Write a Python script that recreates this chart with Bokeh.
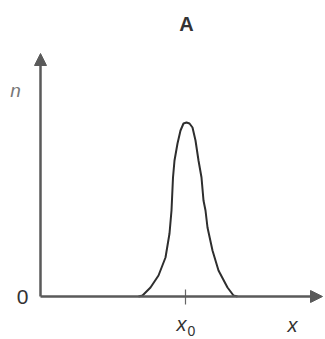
from bokeh.plotting import figure
from bokeh.models import Range1d, Arrow, NormalHead
from bokeh.core.properties import value
from bokeh.embed import file_html
from bokeh.resources import INLINE

# curve (x position, n value) in arbitrary units
curve_x = [98, 102, 110, 118, 125, 129, 131, 132.5, 134, 137, 140, 143, 146,
           149, 152, 155, 158, 161, 163, 165, 167, 172, 178, 187, 193, 197]
curve_n = [0, 1, 9, 21, 39, 63, 86, 119, 136, 153, 166, 173, 174,
           173, 169, 156, 136, 119, 96, 86, 69, 46, 26, 9, 1, 0]
x0_pos = 145
x_axis_end = 282
y_axis_end = 243

FONT = "Liberation Sans"

p = figure(width=325, height=339, output_backend="svg", toolbar_location=None,
           x_range=Range1d(-40, 285), y_range=Range1d(-43, 296),
           min_border=0, outline_line_color=None)
p.axis.visible = False
p.grid.visible = False
p.background_fill_color = "white"

axis_col = "#5a5a5a"
p.add_layout(Arrow(end=NormalHead(size=12, fill_color=axis_col, line_color=axis_col, line_width=1),
                   x_start=0, y_start=0, x_end=x_axis_end, y_end=0,
                   line_color=axis_col, line_width=2.5))
p.add_layout(Arrow(end=NormalHead(size=12, fill_color=axis_col, line_color=axis_col, line_width=1),
                   x_start=0, y_start=0, x_end=0, y_end=y_axis_end,
                   line_color=axis_col, line_width=2.5))

p.segment(x0=[x0_pos], y0=[7], x1=[x0_pos], y1=[-8], line_color="#666666", line_width=1.2)

p.line(curve_x, curve_n, line_color="#2e2e2e", line_width=2, line_join="round")

p.text(x=[146], y=[273], text=["A"], text_font=value(FONT), text_font_style="bold",
       text_font_size="20px", text_align="center", text_baseline="middle", text_color="#333333")
p.text(x=[-25], y=[206], text=["n"], text_font=value(FONT), text_font_style="italic",
       text_font_size="19px", text_align="center", text_baseline="middle", text_color="#777777")
p.text(x=[-18], y=[0], text=["0"], text_font=value(FONT),
       text_font_size="21px", text_align="center", text_baseline="middle", text_color="#333333")
p.text(x=[252], y=[-28], text=["x"], text_font=value(FONT), text_font_style="italic",
       text_font_size="20px", text_align="center", text_baseline="middle", text_color="#333333")
p.text(x=[141], y=[-27], text=["x"], text_font=value(FONT), text_font_style="italic",
       text_font_size="20px", text_align="center", text_baseline="middle", text_color="#333333")
p.text(x=[151], y=[-34], text=["0"], text_font=value(FONT),
       text_font_size="14px", text_align="center", text_baseline="middle", text_color="#333333")

open("out.html", "w").write(file_html(p, INLINE))
